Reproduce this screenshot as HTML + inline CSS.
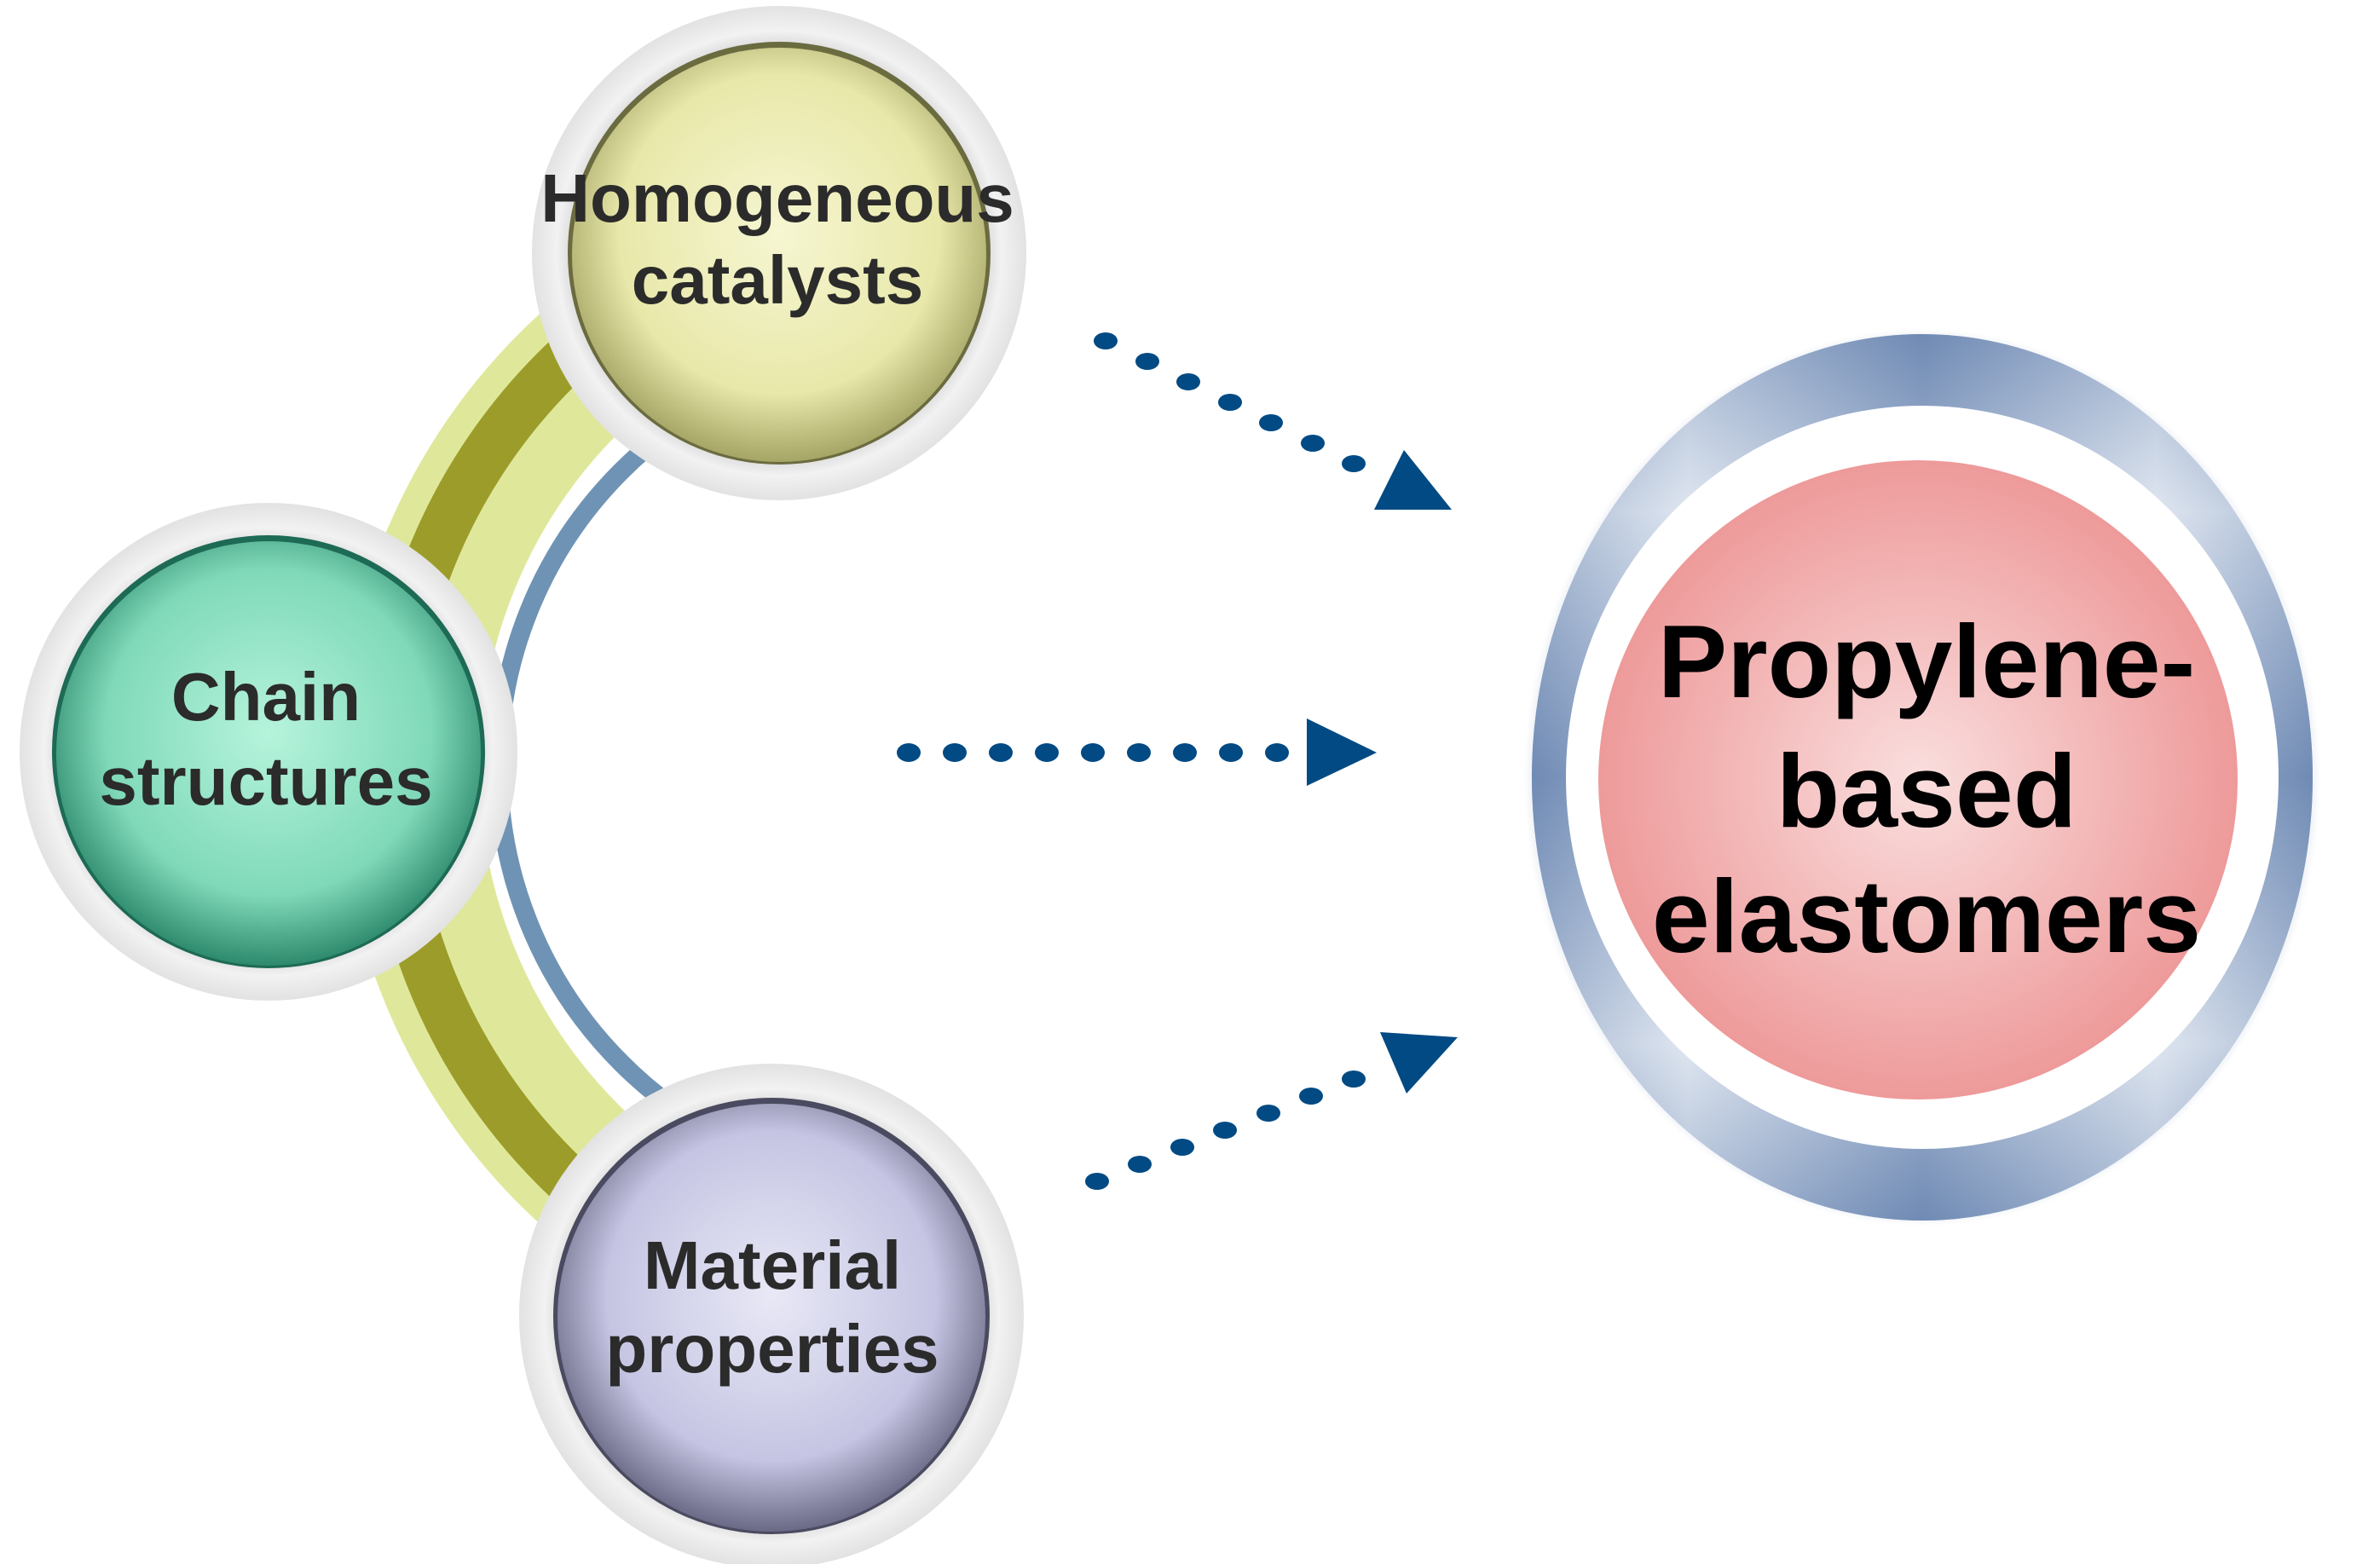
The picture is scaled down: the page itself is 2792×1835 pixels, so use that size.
<!DOCTYPE html>
<html><head><meta charset="utf-8"><style>html,body{margin:0;padding:0;background:#fff}svg{display:block}</style></head>
<body>
<svg width="2792" height="1835" viewBox="0 0 2792 1835" xmlns="http://www.w3.org/2000/svg">
<defs>
<radialGradient id="ring" cx="50%" cy="50%" r="50%">
<stop offset="0.82" stop-color="#d4d4d4"/><stop offset="0.9" stop-color="#f2f2f2"/><stop offset="1" stop-color="#e2e2e2"/>
</radialGradient>
<radialGradient id="yel" cx="50%" cy="45%" r="55%">
<stop offset="0" stop-color="#f6f6d2"/><stop offset="0.7" stop-color="#e8e8aa"/><stop offset="1" stop-color="#a5a566"/>
</radialGradient>
<radialGradient id="grn" cx="50%" cy="45%" r="55%">
<stop offset="0" stop-color="#b6f4dc"/><stop offset="0.7" stop-color="#7fd9b9"/><stop offset="1" stop-color="#2e8a6c"/>
</radialGradient>
<radialGradient id="pur" cx="50%" cy="45%" r="55%">
<stop offset="0" stop-color="#e8e8f6"/><stop offset="0.7" stop-color="#c5c5e3"/><stop offset="1" stop-color="#6a6a86"/>
</radialGradient>
<radialGradient id="pink" cx="50%" cy="50%" r="50%">
<stop offset="0" stop-color="#fadede"/><stop offset="1" stop-color="#ee9a9a"/>
</radialGradient>
<linearGradient id="bh" x1="0" y1="0" x2="1" y2="0">
<stop offset="0" stop-color="#6f8ab4"/><stop offset="0.2" stop-color="#dfe6f0"/><stop offset="0.5" stop-color="#6f8ab4"/><stop offset="0.8" stop-color="#dfe6f0"/><stop offset="1" stop-color="#6f8ab4"/>
</linearGradient>
<linearGradient id="bv" x1="0" y1="0" x2="0" y2="1">
<stop offset="0" stop-color="#6f8ab4"/><stop offset="0.2" stop-color="#dfe6f0"/><stop offset="0.5" stop-color="#6f8ab4"/><stop offset="0.8" stop-color="#dfe6f0"/><stop offset="1" stop-color="#6f8ab4"/>
</linearGradient>
<filter id="sh"><feGaussianBlur stdDeviation="3"/></filter>
</defs>

<!-- arc band -->
<g fill="none">
<path d="M 1120 262 A 640 640 0 0 0 1120 1542" stroke="#dfe89a" stroke-width="165"/>
<path d="M 1120 240 A 662 662 0 0 0 1120 1564" stroke="#9c9c2a" stroke-width="58"/>
<path d="M 1076 409 A 491 491 0 0 0 1076 1391" stroke="#6f93b4" stroke-width="22"/>
</g>

<!-- Homogeneous -->
<circle cx="914" cy="297" r="290" fill="url(#ring)"/>
<circle cx="914" cy="297" r="248" fill="#6b6b40"/>
<circle cx="914" cy="299" r="243" fill="url(#yel)"/>
<!-- Chain -->
<circle cx="315" cy="882" r="292" fill="url(#ring)"/>
<circle cx="315" cy="882" r="254" fill="#1d6a55"/>
<circle cx="315" cy="884" r="249" fill="url(#grn)"/>
<!-- Material -->
<circle cx="905" cy="1544" r="296" fill="url(#ring)"/>
<circle cx="905" cy="1544" r="256" fill="#4a4a60"/>
<circle cx="905" cy="1546" r="251" fill="url(#pur)"/>

<g font-family="Liberation Sans, Arial, sans-serif" font-weight="bold" text-anchor="middle" fill="#2b2b2b" font-size="80">
<text x="912" y="260">Homogeneous</text>
<text x="912" y="356">catalysts</text>
<text x="312" y="845">Chain</text>
<text x="312" y="944">structures</text>
<text x="906" y="1512">Material</text>
<text x="906" y="1610">properties</text>
</g>

<!-- arrows -->
<g fill="#014a84">
<ellipse cx="1297" cy="400" rx="14" ry="10"/><ellipse cx="1346" cy="424" rx="14" ry="10"/><ellipse cx="1394" cy="448" rx="14" ry="10"/><ellipse cx="1443" cy="472" rx="14" ry="10"/><ellipse cx="1491" cy="496" rx="14" ry="10"/><ellipse cx="1540" cy="520" rx="14" ry="10"/><ellipse cx="1588" cy="544" rx="14" ry="10"/>
<polygon points="1612,598 1703,598 1647,528"/>
<ellipse cx="1066" cy="883" rx="14" ry="11"/><ellipse cx="1120" cy="883" rx="14" ry="11"/><ellipse cx="1174" cy="883" rx="14" ry="11"/><ellipse cx="1228" cy="883" rx="14" ry="11"/><ellipse cx="1282" cy="883" rx="14" ry="11"/><ellipse cx="1336" cy="883" rx="14" ry="11"/><ellipse cx="1390" cy="883" rx="14" ry="11"/><ellipse cx="1444" cy="883" rx="14" ry="11"/><ellipse cx="1498" cy="883" rx="14" ry="11"/>
<polygon points="1533,843 1533,922 1615,883"/>
<ellipse cx="1287" cy="1386" rx="14" ry="10"/><ellipse cx="1337" cy="1366" rx="14" ry="10"/><ellipse cx="1387" cy="1346" rx="14" ry="10"/><ellipse cx="1437" cy="1326" rx="14" ry="10"/><ellipse cx="1488" cy="1306" rx="14" ry="10"/><ellipse cx="1538" cy="1286" rx="14" ry="10"/><ellipse cx="1588" cy="1266" rx="14" ry="10"/>
<polygon points="1619,1211 1710,1217 1650,1283"/>
</g>

<!-- big ring -->
<ellipse cx="2255" cy="912" rx="463" ry="522" fill="#e4e9f1" opacity="0.5" filter="url(#sh)"/>
<ellipse cx="2255" cy="912" rx="458" ry="520" fill="url(#bh)"/>
<ellipse cx="2255" cy="912" rx="458" ry="520" fill="url(#bv)" opacity="0.5"/>
<ellipse cx="2255" cy="912" rx="418" ry="436" fill="#fff"/>
<ellipse cx="2250" cy="915" rx="375" ry="375" fill="url(#pink)"/>
<g font-family="Liberation Sans, Arial, sans-serif" font-weight="bold" text-anchor="middle" fill="#000" font-size="122">
<text x="2260" y="818">Propylene-</text>
<text x="2260" y="970">based</text>
<text x="2260" y="1117">elastomers</text>
</g>
</svg>
</body></html>
